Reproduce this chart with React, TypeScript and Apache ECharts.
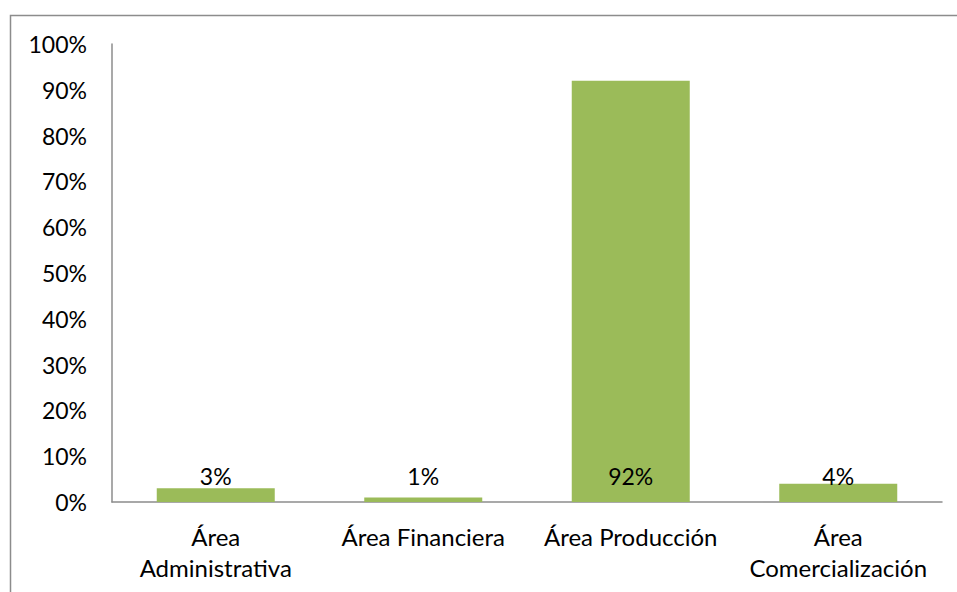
import React, { useEffect, useRef } from "react";
import * as echarts from "echarts";

const categories = ["Área\nAdministrativa", "Área Financiera", "Área Producción", "Área\nComercialización"];
const values = [3, 1, 92, 4];
const yTicks = [0, 10, 20, 30, 40, 50, 60, 70, 80, 90, 100];

export default function App() {
  const ref = useRef<HTMLDivElement>(null);
  useEffect(() => {
    document.body.style.margin = "0";
    const chart = echarts.init(ref.current!, null, { renderer: "svg" });
    const font = "Lato";
    chart.setOption({
      animation: false,
      backgroundColor: "#ffffff",
      textStyle: { fontFamily: font },
      graphic: [
        {
          type: "rect",
          shape: { x: 10.5, y: 15.5, width: 1000, height: 1000 },
          style: { fill: "none", stroke: "#8c8c8c", lineWidth: 1.5 },
          silent: true,
        },
      ],
      grid: { left: 112, right: 15, top: 44, bottom: 90, containLabel: false },
      xAxis: {
        type: "category",
        data: categories,
        axisLine: { show: true, lineStyle: { color: "#8c8c8c", width: 1.5 } },
        axisTick: { show: false },
        axisLabel: {
          color: "#000",
          fontFamily: font,
          fontSize: 24,
          lineHeight: 31,
          margin: 19,
          interval: 0,
        },
      },
      yAxis: {
        type: "value",
        min: yTicks[0],
        max: yTicks[yTicks.length - 1],
        interval: 10,
        axisLine: { show: true, lineStyle: { color: "#8c8c8c", width: 1.5 } },
        axisTick: { show: false },
        splitLine: { show: false },
        axisLabel: {
          color: "#000",
          fontFamily: font,
          fontSize: 23,
          margin: 25,
          formatter: "{value}%",
        },
      },
      series: [
        {
          type: "bar",
          data: values,
          barWidth: 118,
          itemStyle: { color: "#9BBB59" },
          label: {
            show: true,
            position: "insideBottom",
            distance: 15,
            color: "#000",
            fontFamily: font,
            fontSize: 23,
            formatter: "{c}%",
          },
        },
      ],
    });
    return () => chart.dispose();
  }, []);
  return <div ref={ref} style={{ width: 957, height: 592 }} />;
}
